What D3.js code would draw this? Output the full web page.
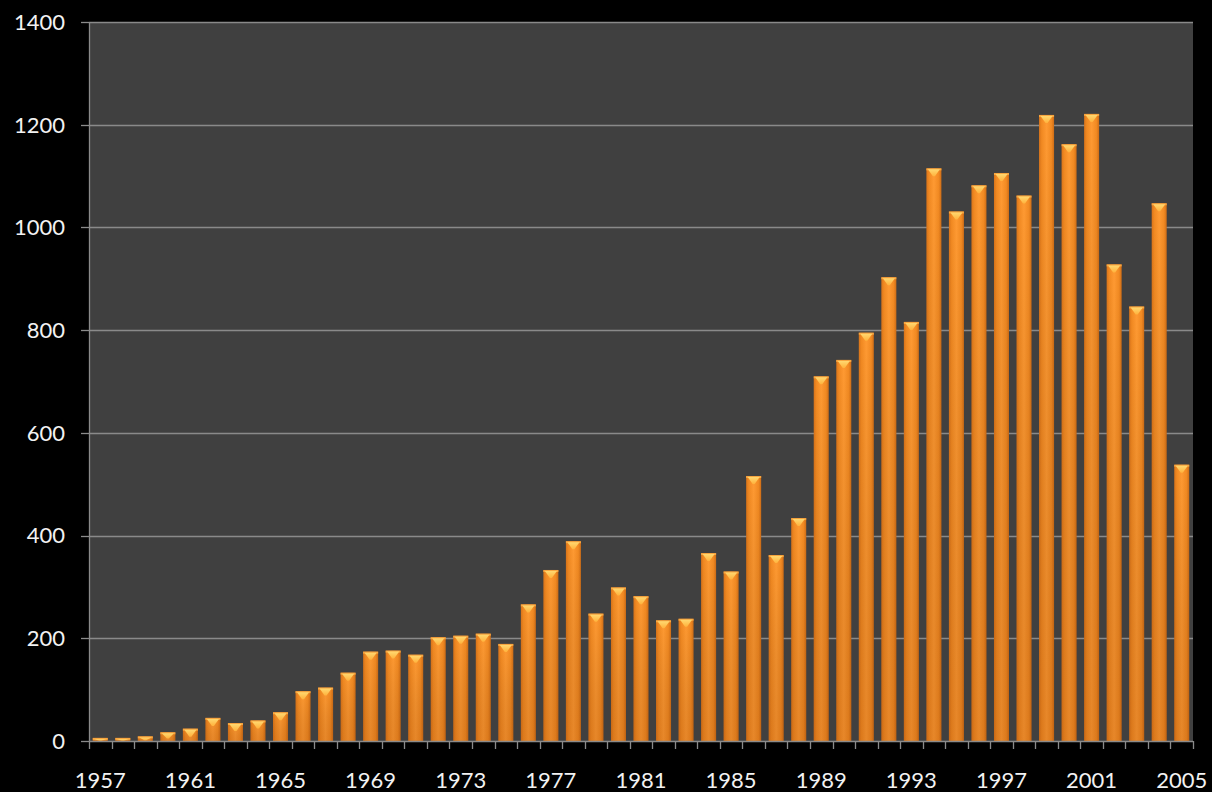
<!DOCTYPE html>
<html>
<head>
<meta charset="utf-8">
<script src="https://cdn.jsdelivr.net/npm/d3@7"></script>
<style>
  html, body { margin: 0; padding: 0; background: #000; }
  svg { display: block; }
  text { font-family: Lato, "Open Sans", "DejaVu Sans", sans-serif; }
</style>
</head>
<body>
<svg id="chart" width="1212" height="792"></svg>
<script>
const years = [1957,1958,1959,1960,1961,1962,1963,1964,1965,1966,1967,1968,1969,1970,1971,1972,1973,1974,1975,1976,1977,1978,1979,1980,1981,1982,1983,1984,1985,1986,1987,1988,1989,1990,1991,1992,1993,1994,1995,1996,1997,1998,1999,2000,2001,2002,2003,2004,2005];
const values = [6,6,9,17,24,45,35,40,56,97,104,133,174,176,168,202,205,209,189,266,333,389,248,299,282,235,238,366,330,516,362,434,710,742,795,903,816,1115,1031,1082,1106,1062,1219,1162,1221,928,846,1047,538];
const yTicks = [0,200,400,600,800,1000,1200,1400];
const xTickLabels = [1957,1961,1965,1969,1973,1977,1981,1985,1989,1993,1997,2001,2005];

const svg = d3.select("#chart");
const W = 1212, H = 792;
const margin = {left: 89, right: 19, top: 22, bottom: 51};
const x0 = margin.left, x1 = W - margin.right, y0 = H - margin.bottom, y1 = margin.top;

svg.append("rect").attr("width", W).attr("height", H).attr("fill", "#000");

const x = d3.scaleBand().domain(years).range([x0, x1]).paddingInner(1/3).paddingOuter(1/6);
const xb = d3.scaleBand().domain(years).range([x0, x1]).padding(0);
const y = d3.scaleLinear().domain([0, 1400]).range([y0, y1]);

// defs
const defs = svg.append("defs");
const g1 = defs.append("linearGradient").attr("id", "barGrad").attr("x1", "0").attr("x2", "1").attr("y1", "0").attr("y2", "0");
g1.append("stop").attr("offset", "0%").attr("stop-color", "#d9741a");
g1.append("stop").attr("offset", "18%").attr("stop-color", "#f28a22");
g1.append("stop").attr("offset", "50%").attr("stop-color", "#ff9a32");
g1.append("stop").attr("offset", "82%").attr("stop-color", "#f28a22");
g1.append("stop").attr("offset", "100%").attr("stop-color", "#cf6d16");
const g2 = defs.append("linearGradient").attr("id", "shadeGrad").attr("x1", "0").attr("x2", "0").attr("y1", "0").attr("y2", "1");
g2.append("stop").attr("offset", "0%").attr("stop-color", "#000").attr("stop-opacity", 0);
g2.append("stop").attr("offset", "100%").attr("stop-color", "#7a3000").attr("stop-opacity", 0.18);
const g3 = defs.append("linearGradient").attr("id", "bevelGrad").attr("x1", "0").attr("x2", "0").attr("y1", "0").attr("y2", "1");
g3.append("stop").attr("offset", "0%").attr("stop-color", "#ffd870");
g3.append("stop").attr("offset", "100%").attr("stop-color", "#ffb23c");

// plot area
svg.append("rect").attr("x", x0).attr("y", y1).attr("width", x1 - x0).attr("height", y0 - y1).attr("fill", "#404040");

// gridlines
svg.append("g").selectAll("line").data(yTicks.filter(d => d > 0)).join("line")
  .attr("x1", x0).attr("x2", x1)
  .attr("y1", d => Math.round(y(d)) + 0.5).attr("y2", d => Math.round(y(d)) + 0.5)
  .attr("stroke", "#8a8a8a").attr("stroke-width", 1.3);

// bars
const bars = svg.append("g");
const data = years.map((yr, i) => ({yr, v: values[i]}));
bars.selectAll("rect.bar").data(data).join("rect").attr("class", "bar")
  .attr("x", d => x(d.yr)).attr("width", x.bandwidth())
  .attr("y", d => y(d.v)).attr("height", d => y0 - y(d.v))
  .attr("fill", "url(#barGrad)");
bars.selectAll("rect.shade").data(data).join("rect").attr("class", "shade")
  .attr("x", d => x(d.yr)).attr("width", x.bandwidth())
  .attr("y", d => y(d.v)).attr("height", d => y0 - y(d.v))
  .attr("fill", "url(#shadeGrad)");
// top bevel
const bw = x.bandwidth();
bars.selectAll("rect.topEdge").data(data).join("rect").attr("class", "topEdge")
  .attr("x", d => x(d.yr)).attr("width", bw)
  .attr("y", d => y(d.v)).attr("height", d => Math.min(2, y0 - y(d.v)))
  .attr("fill", "#f7a640");
bars.selectAll("path.bevel").data(data).join("path").attr("class", "bevel")
  .attr("d", d => {
    const bx = x(d.yr), by = y(d.v);
    const h = Math.min(7, (y0 - by) * 0.6);
    return `M${bx + 1.5},${by + 1} L${bx + bw - 1.5},${by + 1} L${bx + bw / 2 + 1},${by + 1 + h} L${bx + bw / 2 - 1},${by + 1 + h} Z`;
  })
  .attr("fill", "url(#bevelGrad)");

// axes lines
svg.append("line").attr("x1", x0 + 0.5).attr("x2", x0 + 0.5).attr("y1", y1).attr("y2", y0)
  .attr("stroke", "#8a8a8a").attr("stroke-width", 1.3);
svg.append("line").attr("x1", x0).attr("x2", x1).attr("y1", y0 + 0.5).attr("y2", y0 + 0.5)
  .attr("stroke", "#8a8a8a").attr("stroke-width", 1.3);

// y ticks
svg.append("g").selectAll("line").data(yTicks).join("line")
  .attr("x1", x0 - 8).attr("x2", x0)
  .attr("y1", d => Math.round(y(d)) + 0.5).attr("y2", d => Math.round(y(d)) + 0.5)
  .attr("stroke", "#8a8a8a").attr("stroke-width", 1.3);
svg.append("g").selectAll("text").data(yTicks).join("text")
  .attr("x", 65).attr("y", d => y(d)).attr("dy", "0.36em")
  .attr("text-anchor", "end").attr("fill", "#f2f2f2").attr("font-size", 22)
  .text(d => d);

// x ticks at band boundaries
const boundaries = years.map(yr => xb(yr)).concat([x1]);
svg.append("g").selectAll("line").data(boundaries).join("line")
  .attr("x1", d => Math.round(d) + 0.5).attr("x2", d => Math.round(d) + 0.5)
  .attr("y1", y0).attr("y2", y0 + 8)
  .attr("stroke", "#8a8a8a").attr("stroke-width", 1.3);
svg.append("g").selectAll("text").data(xTickLabels).join("text")
  .attr("x", d => xb(d) + xb.bandwidth() / 2).attr("y", 788)
  .attr("text-anchor", "middle").attr("fill", "#f2f2f2").attr("font-size", 22)
  .text(d => d);
</script>
</body>
</html>
